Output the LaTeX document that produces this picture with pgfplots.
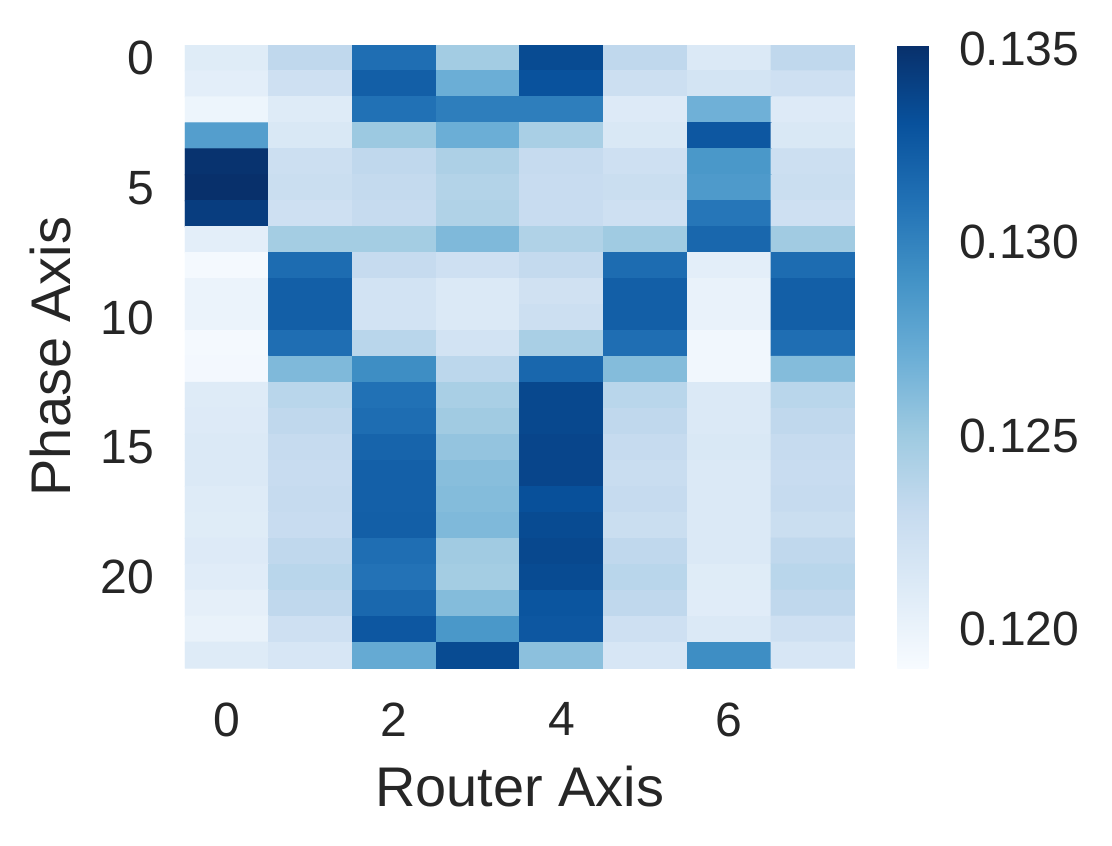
\documentclass[border=0pt]{standalone}
\usepackage{pgfplots}
\pgfplotsset{compat=1.18}
\usepackage{pgfplotstable}
\usepackage{fontspec}
\setmainfont{Liberation Sans}
\definecolor{txt}{RGB}{38,38,38}
\pgfplotsset{colormap={blues}{rgb255=(247,251,255) rgb255=(222,235,247) rgb255=(198,219,239) rgb255=(158,202,225) rgb255=(107,174,214) rgb255=(66,146,198) rgb255=(33,113,181) rgb255=(8,81,156) rgb255=(8,48,107)}}
\pgfplotstableread[row sep=\\]{
x y v\\
0 0 0.12093\\ 1 0 0.12335\\ 2 0 0.13124\\ 3 0 0.12480\\ 4 0 0.13349\\ 5 0 0.12335\\ 6 0 0.12125\\ 7 0 0.12335\\
0 1 0.12061\\ 1 1 0.12238\\ 2 1 0.13220\\ 3 1 0.12705\\ 4 1 0.13301\\ 5 1 0.12254\\ 6 1 0.12190\\ 7 1 0.12238\\
0 2 0.11981\\ 1 2 0.12101\\ 2 2 0.13108\\ 3 2 0.13027\\ 4 2 0.13027\\ 5 2 0.12109\\ 6 2 0.12689\\ 7 2 0.12109\\
0 3 0.12818\\ 1 3 0.12142\\ 2 3 0.12512\\ 3 3 0.12705\\ 4 3 0.12447\\ 5 3 0.12142\\ 6 3 0.13269\\ 7 3 0.12142\\
0 4 0.13494\\ 1 4 0.12254\\ 2 4 0.12335\\ 3 4 0.12431\\ 4 4 0.12303\\ 5 4 0.12238\\ 6 4 0.12866\\ 7 4 0.12254\\
0 5 0.13510\\ 1 5 0.12270\\ 2 5 0.12311\\ 3 5 0.12399\\ 4 5 0.12286\\ 5 5 0.12270\\ 6 5 0.12850\\ 7 5 0.12270\\
0 6 0.13430\\ 1 6 0.12238\\ 2 6 0.12303\\ 3 6 0.12415\\ 4 6 0.12286\\ 5 6 0.12238\\ 6 6 0.13075\\ 7 6 0.12238\\
0 7 0.12061\\ 1 7 0.12472\\ 2 7 0.12472\\ 3 7 0.12625\\ 4 7 0.12415\\ 5 7 0.12496\\ 6 7 0.13172\\ 7 7 0.12488\\
0 8 0.11924\\ 1 8 0.13140\\ 2 8 0.12303\\ 3 8 0.12238\\ 4 8 0.12311\\ 5 8 0.13140\\ 6 8 0.12061\\ 7 8 0.13140\\
0 9 0.11997\\ 1 9 0.13220\\ 2 9 0.12206\\ 3 9 0.12125\\ 4 9 0.12222\\ 5 9 0.13220\\ 6 9 0.12013\\ 7 9 0.13220\\
0 10 0.11997\\ 1 10 0.13220\\ 2 10 0.12206\\ 3 10 0.12125\\ 4 10 0.12254\\ 5 10 0.13220\\ 6 10 0.12013\\ 7 10 0.13220\\
0 11 0.11924\\ 1 11 0.13124\\ 2 11 0.12367\\ 3 11 0.12206\\ 4 11 0.12447\\ 5 11 0.13124\\ 6 11 0.11948\\ 7 11 0.13124\\
0 12 0.11932\\ 1 12 0.12625\\ 2 12 0.12930\\ 3 12 0.12351\\ 4 12 0.13172\\ 5 12 0.12608\\ 6 12 0.11948\\ 7 12 0.12608\\
0 13 0.12101\\ 1 13 0.12367\\ 2 13 0.13108\\ 3 13 0.12447\\ 4 13 0.13365\\ 5 13 0.12367\\ 6 13 0.12125\\ 7 13 0.12367\\
0 14 0.12109\\ 1 14 0.12335\\ 2 14 0.13132\\ 3 14 0.12488\\ 4 14 0.13365\\ 5 14 0.12335\\ 6 14 0.12125\\ 7 14 0.12335\\
0 15 0.12125\\ 1 15 0.12303\\ 2 15 0.13188\\ 3 15 0.12544\\ 4 15 0.13381\\ 5 15 0.12303\\ 6 15 0.12142\\ 7 15 0.12303\\
0 16 0.12125\\ 1 16 0.12286\\ 2 16 0.13212\\ 3 16 0.12592\\ 4 16 0.13381\\ 5 16 0.12278\\ 6 16 0.12125\\ 7 16 0.12286\\
0 17 0.12101\\ 1 17 0.12303\\ 2 17 0.13212\\ 3 17 0.12608\\ 4 17 0.13317\\ 5 17 0.12303\\ 6 17 0.12125\\ 7 17 0.12303\\
0 18 0.12093\\ 1 18 0.12286\\ 2 18 0.13220\\ 3 18 0.12625\\ 4 18 0.13349\\ 5 18 0.12270\\ 6 18 0.12125\\ 7 18 0.12270\\
0 19 0.12109\\ 1 19 0.12335\\ 2 19 0.13124\\ 3 19 0.12488\\ 4 19 0.13365\\ 5 19 0.12335\\ 6 19 0.12125\\ 7 19 0.12335\\
0 20 0.12085\\ 1 20 0.12367\\ 2 20 0.13099\\ 3 20 0.12472\\ 4 20 0.13349\\ 5 20 0.12367\\ 6 20 0.12093\\ 7 20 0.12367\\
0 21 0.12045\\ 1 21 0.12335\\ 2 21 0.13164\\ 3 21 0.12608\\ 4 21 0.13285\\ 5 21 0.12335\\ 6 21 0.12085\\ 7 21 0.12335\\
0 22 0.12013\\ 1 22 0.12238\\ 2 22 0.13269\\ 3 22 0.12866\\ 4 22 0.13269\\ 5 22 0.12238\\ 6 22 0.12125\\ 7 22 0.12238\\
0 23 0.12101\\ 1 23 0.12158\\ 2 23 0.12737\\ 3 23 0.13349\\ 4 23 0.12576\\ 5 23 0.12158\\ 6 23 0.12930\\ 7 23 0.12158\\
}\heat
\begin{document}
\begin{tikzpicture}
\begin{axis}[
  name=ax,
  scale only axis,
  width=241.0pt, height=224.1pt,
  xmin=-0.5, xmax=7.5, ymin=-0.5, ymax=23.5,
  y dir=reverse,
  axis line style={draw=none},
  major tick length=0pt,
  tick style={draw=none},
  xtick={0,2,4,6}, ytick={0,5,10,15,20},
  /pgf/number format/assume math mode=true,
  tick label style={font=\fontsize{17.3}{20}\selectfont, text=txt, inner sep=0pt},
  xticklabel style={anchor=north, yshift=-12.2pt},
  yticklabel style={anchor=east, xshift=-10.8pt},
  label style={font=\fontsize{20.1}{24}\selectfont, text=txt, inner sep=0pt},
  xlabel={Router Axis},
  ylabel={Phase Axis},
  xlabel style={at={([yshift=-34.9pt]axis description cs:0.5,0)}, anchor=north},
  ylabel style={at={([xshift=-40.6pt]axis description cs:0,0.5)}, anchor=south},
  colormap name=blues,
  point meta min=0.1190, point meta max=0.1351,
  colorbar,
  colorbar style={
    at={(parent axis.north east)}, anchor=north west, xshift=6.8pt,
    width=11.15pt,
    axis line style={draw=none},
    major tick length=0pt,
    tick style={draw=none},
    ytick={0.120,0.125,0.130,0.135},
    /pgf/number format/assume math mode=true,
    yticklabel style={font=\fontsize{17.3}{20}\selectfont, text=txt, inner sep=0pt, anchor=west, xshift=10.8pt,
      /pgf/number format/.cd, fixed, fixed zerofill, precision=3},
    scaled y ticks=false,
  },
]
\addplot[matrix plot*, mesh/cols=8, point meta=explicit] table[x=x, y=y, meta=v] {\heat};
\end{axis}
\pgfresetboundingbox
\path[use as bounding box] ([xshift=-66.5pt, yshift=-64.0pt]ax.south west) rectangle ++(400pt, 304.3pt);
\end{tikzpicture}
\end{document}
